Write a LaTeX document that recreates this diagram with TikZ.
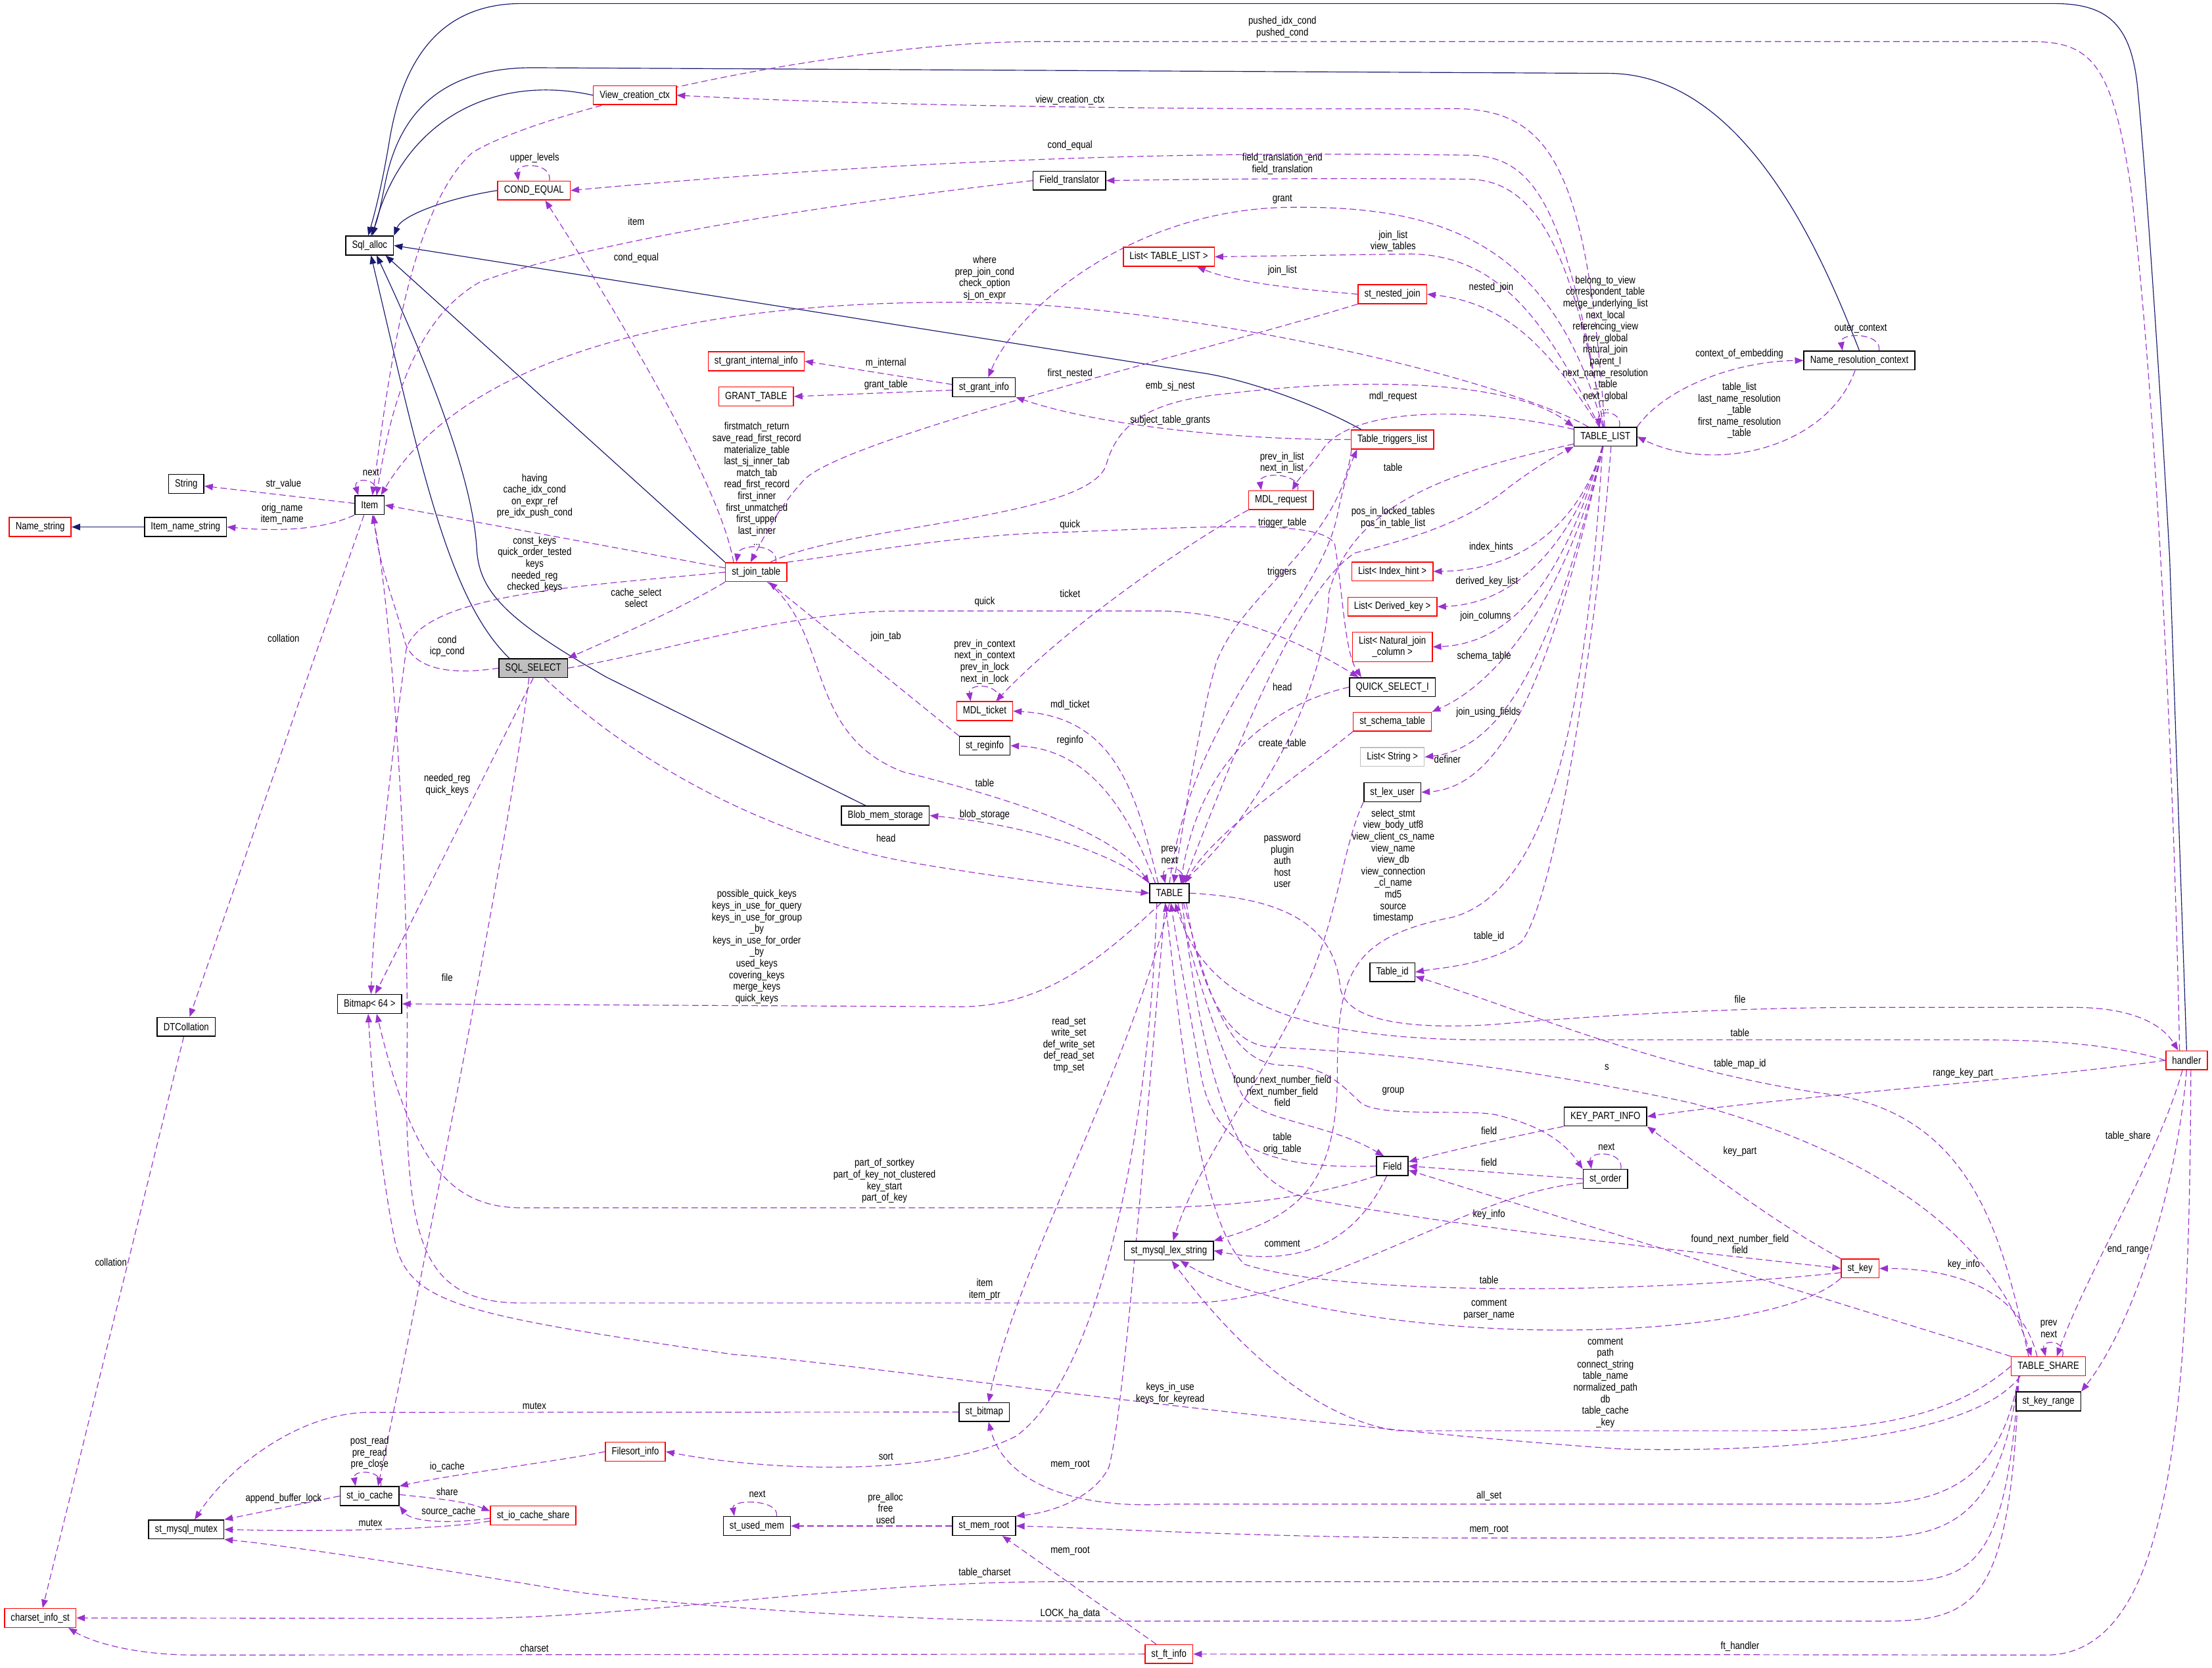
\documentclass[tikz,border=0pt]{standalone}
\usepackage{fontspec}
\setmainfont{Liberation Sans}[FakeStretch=0.83]
\usetikzlibrary{arrows.meta,backgrounds}
\definecolor{EdgeOrchid}{HTML}{9A32CD}
\definecolor{BaseNavy}{HTML}{191970}
\definecolor{BoxRed}{HTML}{FF0000}
\definecolor{BoxGray}{HTML}{BFBFBF}
\newcommand{\lblfont}{\fontsize{7.4}{8.2}\selectfont}

\begin{document}
\begin{tikzpicture}[
  x=1pt,
  y=-1pt,
  cls/.style={rectangle,draw=black,line width=0.7pt,fill=white,font=\lblfont,align=center,inner xsep=4.5pt,inner ysep=0pt,minimum height=13.4pt},
  undoc/.style={cls,draw=BoxRed},
  ext/.style={cls,draw=BoxGray},
  focus/.style={cls,fill=BoxGray},
  uses/.style={-{Triangle[length=6pt,width=4.6pt]},draw=EdgeOrchid,line width=0.55pt,dash pattern=on 4.5pt off 2.5pt},
  inherit/.style={-{Triangle[length=6pt,width=4.6pt]},draw=BaseNavy,line width=0.55pt},
  lbl/.style={font=\lblfont,align=center,inner sep=0pt}
]
  \useasboundingbox (0,0) rectangle (1568,1182);

  % classes
  \node[cls] (sqlalloc) at (262,174) {Sql\_alloc};
  \node[undoc] (viewctx) at (450,67.5) {View\_creation\_ctx};
  \node[undoc] (condeq) at (378.5,135) {COND\_EQUAL};
  \node[cls] (fieldtr) at (758,128) {Field\_translator};
  \node[undoc] (listtl) at (828.5,182) {List< TABLE\_LIST >};
  \node[undoc] (nestedjoin) at (987,208.5) {st\_nested\_join};
  \node[undoc] (grantint) at (536,256) {st\_grant\_internal\_info};
  \node[undoc] (granttab) at (536,281) {GRANT\_TABLE};
  \node[cls] (grantinfo) at (697.5,274.5) {st\_grant\_info};
  \node[undoc] (trigl) at (987,311.5) {Table\_triggers\_list};
  \node[cls] (tablelist) at (1138,309.5) {TABLE\_LIST};
  \node[cls] (nrc) at (1318,255.5) {Name\_resolution\_context};
  \node[undoc] (mdlreq) at (908,354.5) {MDL\_request};
  \node[cls] (string) at (132,343) {String};
  \node[cls] (item) at (262,358) {Item};
  \node[undoc] (namestr) at (28.5,373.5) {Name\_string};
  \node[cls] (itemname) at (131.5,373.5) {Item\_name\_string};
  \node[undoc] (joint) at (536,405.5) {st\_join\_table};
  \node[undoc] (lindex) at (987,405) {List< Index\_hint >};
  \node[undoc] (lderived) at (987,430) {List< Derived\_key >};
  \node[undoc,inner ysep=3pt] (lnatural) at (987,458.5) {List< Natural\_join\\\_column >};
  \node[focus] (sqlselect) at (378,473.5) {SQL\_SELECT};
  \node[cls] (quick) at (987,487) {QUICK\_SELECT\_I};
  \node[undoc] (mdlticket) at (698,504) {MDL\_ticket};
  \node[undoc] (schema) at (987,511.5) {st\_schema\_table};
  \node[cls] (reginfo) at (698,528.5) {st\_reginfo};
  \node[ext] (lstring) at (987,536.5) {List< String >};
  \node[cls] (lexuser) at (987,561.5) {st\_lex\_user};
  \node[cls] (blob) at (627.6,578) {Blob\_mem\_storage};
  \node[cls] (table) at (829,633) {TABLE};
  \node[cls] (tableid) at (987,689) {Table\_id};
  \node[cls] (bitmap) at (262,711.5) {Bitmap< 64 >};
  \node[cls] (dtcoll) at (132,727.7) {DTCollation};
  \node[undoc] (handler) at (1550,751.5) {handler};
  \node[cls] (keypart) at (1138,791.3) {KEY\_PART\_INFO};
  \node[cls] (field) at (987,826.4) {Field};
  \node[cls] (order) at (1138,835.5) {st\_order};
  \node[cls] (lexstr) at (828.6,886.4) {st\_mysql\_lex\_string};
  \node[undoc] (stkey) at (1318.5,899) {st\_key};
  \node[undoc] (share) at (1452,968.3) {TABLE\_SHARE};
  \node[cls] (keyrange) at (1452,993.2) {st\_key\_range};
  \node[cls] (bitmapst) at (697.7,1000.8) {st\_bitmap};
  \node[undoc] (filesort) at (450.4,1028.8) {Filesort\_info};
  \node[cls] (iocache) at (262,1060.3) {st\_io\_cache};
  \node[undoc] (iocshare) at (378,1074) {st\_io\_cache\_share};
  \node[cls] (usedmem) at (536.5,1081.5) {st\_used\_mem};
  \node[cls] (memroot) at (697.5,1081.5) {st\_mem\_root};
  \node[cls] (mutex) at (132,1084) {st\_mysql\_mutex};
  \node[undoc] (charset) at (28.5,1146.7) {charset\_info\_st};
  \node[undoc] (ftinfo) at (828.6,1172.3) {st\_ft\_info};

  \begin{pgfonlayer}{background}
  % inheritance
  \draw[inherit] (itemname) -- (namestr);
  \draw[inherit] (handler.north) -- (1538,396) .. controls (1530,250) and (1520,110) .. (1515,60) .. controls (1510,15) and (1492,2.5) .. (1455,2.5) -- (370,2.5) .. controls (310,2.5) and (285,45) .. (276,100) .. controls (271,130) and (266,150) .. ([xshift=-1pt]sqlalloc.north);
  \draw[inherit] (nrc.north) .. controls (1295,190) and (1240,52) .. (1140,52) -- (380,48) .. controls (300,47) and (280,95) .. (273,130) .. controls (270,145) and (268,155) .. ([xshift=1pt]sqlalloc.north);
  \draw[inherit] (viewctx.west) .. controls (350,52) and (285,85) .. ([xshift=2pt]sqlalloc.north);
  \draw[inherit] (condeq.west) .. controls (320,140) and (285,152) .. (sqlalloc.north east);
  \draw[inherit] ([xshift=-22pt]trigl.north) .. controls (930,285) and (880,268) .. (850,264) -- (sqlalloc.east);
  \draw[inherit] ([xshift=-17pt]sqlselect.north) .. controls (318,425) and (298,330) .. ([xshift=1pt]sqlalloc.south);
  \draw[inherit] ([xshift=-14pt]blob.north) -- (430,480) .. controls (360,440) and (340,420) .. (338,390) .. controls (335,330) and (290,230) .. ([xshift=5pt]sqlalloc.south);
  \draw[inherit] (joint.north west) -- ([xshift=-6pt]sqlalloc.south east);

  % Item and its neighbours
  \draw[uses] (item) -- (string) node[lbl] at (201,343) {str\_value};
  \draw[uses] (item.south west) .. controls (230,375) and (200,377) .. (itemname.east) node[lbl] at (200,364.3) {orig\_name\\item\_name};
  \draw[uses] ([xshift=5pt]item.north) .. controls +(2,-13) and +(-4,-13) .. ([xshift=-8pt]item.north) node[lbl] at (263,335) {next};
  \draw[uses] ([xshift=-4pt]item.south) -- (dtcoll) node[lbl] at (201,452.5) {collation};
  \draw[uses] (dtcoll) -- (charset) node[lbl] at (78.6,894.7) {collation};
  \draw[uses] ([xshift=11pt]condeq.north) .. controls +(2,-13) and +(-2,-13) .. ([xshift=-11pt]condeq.north) node[lbl] at (379,112) {upper\_levels};

  % SQL_SELECT
  \draw[uses] (sqlselect.west) .. controls (310,480) and (292,470) .. (287,455) .. controls (281,430) and (268,400) .. ([xshift=3pt]item.south) node[lbl] at (317,458) {cond\\icp\_cond};
  \draw[uses] ([xshift=8pt]sqlselect.south) .. controls (460,550) and (560,597) .. (650,612) .. controls (720,624) and (780,630) .. (table.west) node[lbl] at (628,594) {head};
  \draw[uses] (sqlselect.east) .. controls (480,460) and (560,433) .. (640,433) -- (820,433) .. controls (880,433) and (930,460) .. ([xshift=-24pt]quick.north) node[lbl] at (698,426.7) {quick};
  \draw[uses] (sqlselect.south) -- ([xshift=4pt]bitmap.north) node[lbl] at (317,556) {needed\_reg\\quick\_keys};
  \draw[uses] ([xshift=-3pt]sqlselect.south) .. controls (360,600) and (300,900) .. ([xshift=6pt]iocache.north) node[lbl] at (317,693) {file};

  % st_join_table
  \draw[uses] ([yshift=3pt]joint.west) -- (item.east) node[lbl] at (379,351.5) {having\\cache\_idx\_cond\\on\_expr\_ref\\pre\_idx\_push\_cond};
  \draw[uses] (joint.west) .. controls (420,415) and (300,420) .. (288,460) .. controls (280,520) and (265,640) .. ([xshift=1pt]bitmap.north) node[lbl] at (379,400) {const\_keys\\quick\_order\_tested\\keys\\needed\_reg\\checked\_keys};
  \draw[uses] (joint.south west) .. controls (485,430) and (440,450) .. (sqlselect.north east) node[lbl] at (451,423.7) {cache\_select\\select};
  \draw[uses] ([xshift=-16pt]joint.north) .. controls (510,340) and (430,210) .. ([xshift=8pt]condeq.south) node[lbl] at (451,183) {cond\_equal};
  \draw[uses] ([xshift=8pt]joint.south) .. controls (590,450) and (570,520) .. (640,547) .. controls (720,567) and (790,590) .. (table.north west) node[lbl] at (698,554.7) {table};
  \draw[uses] (joint.north east) .. controls (620,390) and (690,378) .. (760,377) .. controls (880,372) and (935,370) .. (946,385) .. controls (952,420) and (953,462) .. ([xshift=-22pt]quick.north) node[lbl] at (758.5,372) {quick};
  \draw[uses] ([xshift=10pt]joint.north) .. controls (600,372) and (770,368) .. (784,330) .. controls (792,300) and (815,284) .. (870,279) .. controls (960,268) and (1070,268) .. (tablelist.north west) node[lbl] at (829.5,273.5) {emb\_sj\_nest};
  \draw[uses] ([xshift=14pt]joint.north) .. controls (552,385) and (524,385) .. ([xshift=-14pt]joint.north) node[lbl] at (536.5,343) {firstmatch\_return\\save\_read\_first\_record\\materialize\_table\\last\_sj\_inner\_tab\\match\_tab\\read\_first\_record\\first\_inner\\first\_unmatched\\first\_upper\\last\_inner\\...};
  \draw[uses] (nestedjoin.south west) .. controls (850,250) and (600,310) .. (570,340) .. controls (550,362) and (542,380) .. ([xshift=-4pt]joint.north) node[lbl] at (758.5,264.7) {first\_nested};
  \draw[uses] (reginfo.north west) -- ([xshift=9pt]joint.south) node[lbl] at (628,451.4) {join\_tab};

  % TABLE_LIST
  \draw[uses] (tablelist) .. controls (1125,120) and (1100,77) .. (1030,77) .. controls (800,78) and (600,74) .. (viewctx.east) node[lbl] at (758.5,71) {view\_creation\_ctx};
  \draw[uses] (tablelist) .. controls (1110,150) and (1090,110) .. (1040,110) .. controls (900,108) and (700,108) .. (condeq.east) node[lbl] at (758.5,103) {cond\_equal};
  \draw[uses] (tablelist) .. controls (1115,180) and (1090,127) .. (1040,127) .. controls (950,126) and (850,127) .. (fieldtr.east) node[lbl] at (909,116.3) {field\_translation\_end\\field\_translation};
  \draw[uses] (fieldtr.west) .. controls (600,143) and (420,170) .. (340,200) .. controls (290,228) and (275,300) .. ([xshift=5pt]item.north) node[lbl] at (451,157) {item};
  \draw[uses] (tablelist) .. controls (1080,276) and (900,226) .. (720,215) .. controls (500,208) and (330,250) .. ([xshift=8pt]item.north) node[lbl] at (698,197) {where\\prep\_join\_cond\\check\_option\\sj\_on\_expr};
  \draw[uses] ([xshift=-5pt]handler.north) .. controls (1540,500) and (1525,250) .. (1510,130) .. controls (1497,45) and (1482,29.5) .. (1440,29.5) -- (735,29.5) .. controls (600,29.5) and (390,75) .. (335,108) .. controls (288,150) and (274,280) .. ([xshift=2pt]item.north) node[lbl] at (909,19.3) {pushed\_idx\_cond\\pushed\_cond};
  \draw[uses] (tablelist) .. controls (1100,240) and (1070,181) .. (1000,180) -- (listtl.east) node[lbl] at (987.5,171) {join\_list\\view\_tables};
  \draw[uses] (nestedjoin.west) .. controls (920,205) and (875,200) .. ([xshift=20pt]listtl.south) node[lbl] at (909,191.6) {join\_list};
  \draw[uses] (tablelist) .. controls (1100,250) and (1070,215) .. (nestedjoin.east) node[lbl] at (1057,204) {nested\_join};
  \draw[uses] (tablelist) .. controls (1100,170) and (1020,145) .. (910,147) .. controls (800,150) and (720,220) .. ([xshift=3pt]grantinfo.north) node[lbl] at (909,141) {grant};
  \draw[uses] ([yshift=2pt]grantinfo.west) -- (grantint.east) node[lbl] at (628,257.6) {m\_internal};
  \draw[uses] ([yshift=-2pt]grantinfo.west) -- (granttab.east) node[lbl] at (628,272.8) {grant\_table};
  \draw[uses] (trigl.west) .. controls (880,312) and (780,302) .. (grantinfo.south east) node[lbl] at (829.5,298) {subject\_table\_grants};
  \draw[uses] ([xshift=10pt]tablelist.north) .. controls +(2,-12) and +(-2,-12) .. ([xshift=-4pt]tablelist.north) node[lbl] at (1138,243.4) {belong\_to\_view\\correspondent\_table\\merge\_underlying\_list\\next\_local\\referencing\_view\\prev\_global\\natural\_join\\parent\_l\\next\_name\_resolution\\\_table\\next\_global\\...};
  \draw[uses] (tablelist.north east) .. controls (1180,275) and (1230,256) .. (nrc.west) node[lbl] at (1233,251) {context\_of\_embedding};
  \draw[uses] ([xshift=-3pt]nrc.south) .. controls (1295,318) and (1215,336) .. (tablelist.east) node[lbl] at (1233,291) {table\_list\\last\_name\_resolution\\\_table\\first\_name\_resolution\\\_table};
  \draw[uses] ([xshift=14pt]nrc.north) .. controls +(2,-13) and +(-2,-13) .. ([xshift=-12pt]nrc.north) node[lbl] at (1319,233) {outer\_context};
  \draw[uses] (tablelist) .. controls (1050,289) and (960,287) .. (938,318) .. controls (928,332) and (920,340) .. ([xshift=8pt]mdlreq.north) node[lbl] at (987.5,281) {mdl\_request};
  \draw[uses] ([xshift=12pt]mdlreq.north) .. controls +(2,-13) and +(-2,-13) .. ([xshift=-14pt]mdlreq.north) node[lbl] at (908.7,328) {prev\_in\_list\\next\_in\_list};
  \draw[uses] (mdlreq.south west) .. controls (850,380) and (760,440) .. ([xshift=8pt]mdlticket.north) node[lbl] at (758.5,420.8) {ticket};
  \draw[uses] ([xshift=10pt]mdlticket.north) .. controls +(2,-13) and +(-2,-13) .. ([xshift=-10pt]mdlticket.north) node[lbl] at (698,469) {prev\_in\_context\\next\_in\_context\\prev\_in\_lock\\next\_in\_lock};
  \draw[uses] (tablelist) .. controls (1040,332) and (960,352) .. (942,420) .. controls (940,500) and (880,590) .. ([xshift=8pt]table.north) node[lbl] at (987.5,331) {table};
  \draw[uses] ([xshift=10pt]table.north) .. controls (880,520) and (920,420) .. (960,392) .. controls (1000,382) and (1040,370) .. (1070,345) .. controls (1090,330) and (1105,322) .. (tablelist.south west) node[lbl] at (987.5,367) {pos\_in\_locked\_tables\\pos\_in\_table\_list};
  \draw[uses] (table.north) .. controls (845,500) and (935,430) .. (948,365) .. controls (952,345) and (956,332) .. ([xshift=-25pt]trigl.south) node[lbl] at (908.7,405.7) {triggers};
  \draw[uses] ([xshift=-29pt]trigl.south) .. controls (950,385) and (880,420) .. (862,470) .. controls (848,520) and (838,590) .. ([xshift=3pt]table.north) node[lbl] at (909,370.5) {trigger\_table};
  \draw[uses] (tablelist) .. controls (1120,370) and (1080,404) .. (lindex.east) node[lbl] at (1057,388) {index\_hints};
  \draw[uses] (tablelist) .. controls (1115,385) and (1075,428) .. (lderived.east) node[lbl] at (1054,412) {derived\_key\_list};
  \draw[uses] (tablelist) .. controls (1110,405) and (1075,456) .. (lnatural.east) node[lbl] at (1053,437) {join\_columns};
  \draw[uses] (tablelist) .. controls (1110,425) and (1060,485) .. (schema.north east) node[lbl] at (1052,465) {schema\_table};
  \draw[uses] (tablelist) .. controls (1105,450) and (1070,530) .. (lstring.east) node[lbl] at (1055,505) {join\_using\_fields};
  \draw[uses] (tablelist) .. controls (1100,480) and (1065,558) .. (lexuser.east) node[lbl] at (1026,538) {definer};
  \draw[uses] ([xshift=4pt]tablelist.south) .. controls (1132,450) and (1102,640) .. (1078,668) .. controls (1055,684) and (1020,686) .. (tableid.east) node[lbl] at (1055.5,663.8) {table\_id};
  \draw[uses] ([xshift=-2pt]tablelist.south) .. controls (1125,500) and (1100,630) .. (1030,650) .. controls (958,664) and (948,690) .. (948,760) .. controls (948,840) and (920,862) .. (lexstr.north east) node[lbl] at (987.6,613.9) {select\_stmt\\view\_body\_utf8\\view\_client\_cs\_name\\view\_name\\view\_db\\view\_connection\\\_cl\_name\\md5\\source\\timestamp};
  \draw[uses] (lexuser.south west) .. controls (952,600) and (950,640) .. (930,690) .. controls (900,760) and (850,820) .. ([xshift=3pt]lexstr.north) node[lbl] at (909,610) {password\\plugin\\auth\\host\\user};

  % TABLE
  \draw[uses] (quick.west) .. controls (900,500) and (850,540) .. ([xshift=8pt]table.north) node[lbl] at (909,486.8) {head};
  \draw[uses] (schema.south west) .. controls (920,550) and (860,590) .. ([xshift=11pt]table.north) node[lbl] at (909,527) {create\_table};
  \draw[uses] ([xshift=-8pt]table.north) .. controls (805,560) and (790,508) .. (mdlticket.east) node[lbl] at (758.5,499.5) {mdl\_ticket};
  \draw[uses] ([xshift=-10pt]table.north) .. controls (805,590) and (780,531) .. (reginfo.east) node[lbl] at (758.5,525) {reginfo};
  \draw[uses] (table.north west) .. controls (790,605) and (730,585) .. (blob.east) node[lbl] at (698,577.7) {blob\_storage};
  \draw[uses] ([xshift=9pt]table.north) .. controls +(4,-13) and +(-3,-13) .. ([xshift=-3pt]table.north) node[lbl] at (829,606) {prev\\next};
  \draw[uses] ([xshift=-6pt]table.south) .. controls (780,680) and (740,713.5) .. (680,713.5) -- (bitmap.east) node[lbl] at (536.5,671) {possible\_quick\_keys\\keys\_in\_use\_for\_query\\keys\_in\_use\_for\_group\\\_by\\keys\_in\_use\_for\_order\\\_by\\used\_keys\\covering\_keys\\merge\_keys\\quick\_keys};
  \draw[uses] (table.south) .. controls (800,760) and (720,900) .. ([xshift=3pt]bitmapst.north) node[lbl] at (757.7,740.5) {read\_set\\write\_set\\def\_write\_set\\def\_read\_set\\tmp\_set};
  \draw[uses] ([xshift=-3pt]table.south) .. controls (812,800) and (797,1000) .. (786,1040) .. controls (775,1062) and (745,1072) .. (memroot.north east) node[lbl] at (758.6,1038) {mem\_root};
  \draw[uses] ([xshift=-9pt]table.south) .. controls (815,800) and (780,975) .. (720,1018) .. controls (660,1048) and (540,1042) .. (filesort.east) node[lbl] at (628,1032.4) {sort};
  \draw[uses] ([xshift=6pt]table.south) .. controls (850,700) and (866,745) .. (880,775) .. controls (890,795) and (940,795) .. ([xshift=-6pt]field.north) node[lbl] at (909,773.2) {found\_next\_number\_field\\next\_number\_field\\field};
  \draw[uses] (field.west) .. controls (880,830) and (858,800) .. (851,760) .. controls (844,720) and (836,680) .. ([xshift=1pt]table.south) node[lbl] at (909,810.6) {table\\orig\_table};
  \draw[uses] ([xshift=9pt]table.south) .. controls (858,800) and (885,842) .. (935,851) .. controls (1050,872) and (1200,887) .. (stkey.west) node[lbl] at (1055.5,861) {key\_info};
  \draw[uses] ([yshift=-3pt]stkey.west) .. controls (1150,918) and (950,918) .. (882,896) .. controls (848,862) and (836,720) .. ([xshift=-3pt]table.south) node[lbl] at (1055.5,907) {table};
  \draw[uses] ([xshift=12pt]table.south) .. controls (850,700) and (870,740) .. (900,742) .. controls (1000,747) and (1100,760) .. (1200,782) .. controls (1320,815) and (1410,870) .. ([xshift=-12pt]share.north) node[lbl] at (1139,756.5) {s};
  \draw[uses] ([xshift=10pt]table.south) .. controls (855,700) and (870,755) .. (910,755) .. controls (940,755) and (952,770) .. (965,782) .. controls (980,792) and (1040,786) .. (1060,790) .. controls (1090,797) and (1108,808) .. (order.north west) node[lbl] at (987.6,773.4) {group};
  \draw[uses] (table.east) .. controls (900,636) and (946,650) .. (950,700) .. controls (954,724) and (1000,730) .. (1060,726) .. controls (1150,718) and (1250,714) .. (1320,714) -- (1470,714) .. controls (1510,714) and (1532,725) .. ([xshift=-6pt]handler.north) node[lbl] at (1233.4,708.3) {file};
  \draw[uses] (handler.west) .. controls (1500,741) and (1460,737) .. (1400,737) -- (1050,737) .. controls (900,736) and (852,700) .. ([xshift=4pt]table.south) node[lbl] at (1233.4,732) {table};

  % Field, keys and st_order
  \draw[uses] (share.north west) -- ([yshift=-3pt]field.east) node[lbl] at (1233.4,881.7) {found\_next\_number\_field\\field};
  \draw[uses] (keypart.south west) .. controls (1070,806) and (1030,815) .. ([yshift=3pt]field.east) node[lbl] at (1055.5,801.2) {field};
  \draw[uses] (order.west) -- (field.east) node[lbl] at (1055.5,823.9) {field};
  \draw[uses] ([xshift=11pt]order.north) .. controls +(2,-13) and +(-2,-13) .. ([xshift=-10pt]order.north) node[lbl] at (1138.8,813) {next};
  \draw[uses] ([yshift=-3pt]order.west) .. controls (1040,845) and (940,923.5) .. (840,923.5) -- (370,923.5) .. controls (300,923.5) and (290,880) .. (288,780) .. controls (292,620) and (276,420) .. ([xshift=2pt]item.south) node[lbl] at (698,914) {item\\item\_ptr};
  \draw[uses] (field.south west) .. controls (930,848) and (880,856) .. (800,856) -- (370,856) .. controls (318,856) and (292,822) .. ([xshift=5pt]bitmap.south) node[lbl] at (627,837) {part\_of\_sortkey\\part\_of\_key\_not\_clustered\\key\_start\\part\_of\_key};
  \draw[uses] ([xshift=-4pt]field.south) .. controls (960,882) and (920,898) .. (lexstr.east) node[lbl] at (909,881.5) {comment};
  \draw[uses] (stkey.south west) .. controls (1270,937) and (1150,947) .. (1050,941) .. controls (950,935) and (872,915) .. ([xshift=8pt]lexstr.south) node[lbl] at (1055.5,928.3) {comment\\parser\_name};
  \draw[uses] (stkey.north west) .. controls (1250,862) and (1200,822) .. (keypart.south east) node[lbl] at (1233.4,816) {key\_part};

  % handler and TABLE_SHARE
  \draw[uses] (handler.west) .. controls (1440,765) and (1260,778) .. (keypart.east) node[lbl] at (1391.5,760.8) {range\_key\_part};
  \draw[uses] ([xshift=-3pt]handler.south) .. controls (1530,820) and (1480,900) .. ([xshift=6pt]share.north) node[lbl] at (1508.5,805.5) {table\_share};
  \draw[uses] (handler.south) .. controls (1542,850) and (1510,942) .. (keyrange.north east) node[lbl] at (1508.5,885.4) {end\_range};
  \draw[uses] ([xshift=3pt]handler.south) .. controls (1552,1000) and (1540,1173) .. (1450,1173) -- (ftinfo.east) node[lbl] at (1233.4,1166.8) {ft\_handler};
  \draw[uses] ([xshift=-8pt]share.north) .. controls (1432,912) and (1382,899) .. (stkey.east) node[lbl] at (1392,896.3) {key\_info};
  \draw[uses] ([xshift=10pt]share.north) .. controls +(3,-12) and +(-3,-12) .. ([xshift=-2pt]share.north) node[lbl] at (1452.3,941.9) {prev\\next};
  \draw[uses] ([xshift=-14pt]share.north) .. controls (1420,880) and (1400,792) .. (1300,776) .. controls (1180,760) and (1080,716) .. ([yshift=-3pt]tableid.east) node[lbl] at (1233.4,754) {table\_map\_id};
  \draw[uses] ([xshift=-20pt]share.south) .. controls (1405,1012) and (1300,1030) .. (1150,1027) .. controls (900,1010) and (600,965) .. (520,960) .. controls (330,932) and (290,925) .. (280,880) .. controls (270,830) and (264,770) .. ([xshift=-1pt]bitmap.south) node[lbl] at (829.5,987.5) {keys\_in\_use\\keys\_for\_keyread};
  \draw[uses] (share.west) .. controls (1385,1003) and (1330,1014) .. (1250,1014) -- (990,1014) .. controls (920,1003) and (862,935) .. ([xshift=2pt]lexstr.south) node[lbl] at (1138,980) {comment\\path\\connect\_string\\table\_name\\normalized\_path\\db\\table\_cache\\\_key};
  \draw[uses] ([xshift=-21pt]share.south) .. controls (1418,1048) and (1380,1066) .. (1320,1066) -- (830,1066) .. controls (760,1070) and (712,1050) .. ([xshift=3pt]bitmapst.south) node[lbl] at (1055.5,1060.3) {all\_set};
  \draw[uses] ([xshift=-21pt]share.south) .. controls (1418,1078) and (1380,1090) .. (1320,1090) -- (1040,1090) .. controls (900,1090) and (780,1083) .. (memroot.east) node[lbl] at (1055.5,1084.2) {mem\_root};
  \draw[uses] ([xshift=-21pt]share.south) .. controls (1422,1108) and (1400,1121) .. (1340,1121) -- (750,1121) .. controls (600,1121) and (450,1147) .. (330,1147) -- (charset.east) node[lbl] at (698,1114.8) {table\_charset};
  \draw[uses] ([xshift=-21pt]share.south) .. controls (1425,1140) and (1400,1149) .. (1330,1149) -- (760,1149) .. controls (620,1149) and (450,1135) .. (400,1127) .. controls (300,1110) and (200,1095) .. (mutex.south east) node[lbl] at (758.6,1143.6) {LOCK\_ha\_data};

  % memory and io
  \draw[uses] (bitmapst.west) -- (262,1001) .. controls (212,1001) and (162,1040) .. ([xshift=6pt]mutex.north) node[lbl] at (378.8,996.5) {mutex};
  \draw[uses] (filesort.west) .. controls (400,1035) and (320,1045) .. (iocache.north east) node[lbl] at (317,1039.5) {io\_cache};
  \draw[uses] ([xshift=8pt]iocache.north) .. controls +(2,-12) and +(-2,-12) .. ([xshift=-10pt]iocache.north) node[lbl] at (262,1029.9) {post\_read\\pre\_read\\pre\_close};
  \draw[uses] ([yshift=1pt]iocache.east) .. controls (310,1062) and (330,1064) .. ([yshift=3pt]iocshare.west) node[lbl] at (317,1057) {share};
  \draw[uses] ([yshift=-2pt]iocshare.west) .. controls (320,1080) and (292,1079) .. (iocache.south east) node[lbl] at (318,1071.5) {source\_cache};
  \draw[uses] (iocache.west) -- (mutex.north east) node[lbl] at (201,1062) {append\_buffer\_lock};
  \draw[uses] ([yshift=-4pt]iocshare.west) .. controls (320,1083) and (250,1086) .. (mutex.east) node[lbl] at (262.6,1079.4) {mutex};
  \draw[uses] (memroot) -- (usedmem) node[lbl] at (627.7,1069) {pre\_alloc\\free\\used};
  \draw[uses] ([xshift=14pt]usedmem.north) .. controls +(2,-12) and +(-2,-12) .. ([xshift=-16pt]usedmem.north) node[lbl] at (536.8,1058.8) {next};
  \draw[uses] ([xshift=-9pt]ftinfo.north) -- ([xshift=13pt]memroot.south) node[lbl] at (758.6,1099) {mem\_root};
  \draw[uses] (ftinfo.west) -- (140,1173) .. controls (90,1173) and (62,1162) .. ([xshift=20pt]charset.south) node[lbl] at (378.8,1168) {charset};
  \end{pgfonlayer}
\end{tikzpicture}
\end{document}
